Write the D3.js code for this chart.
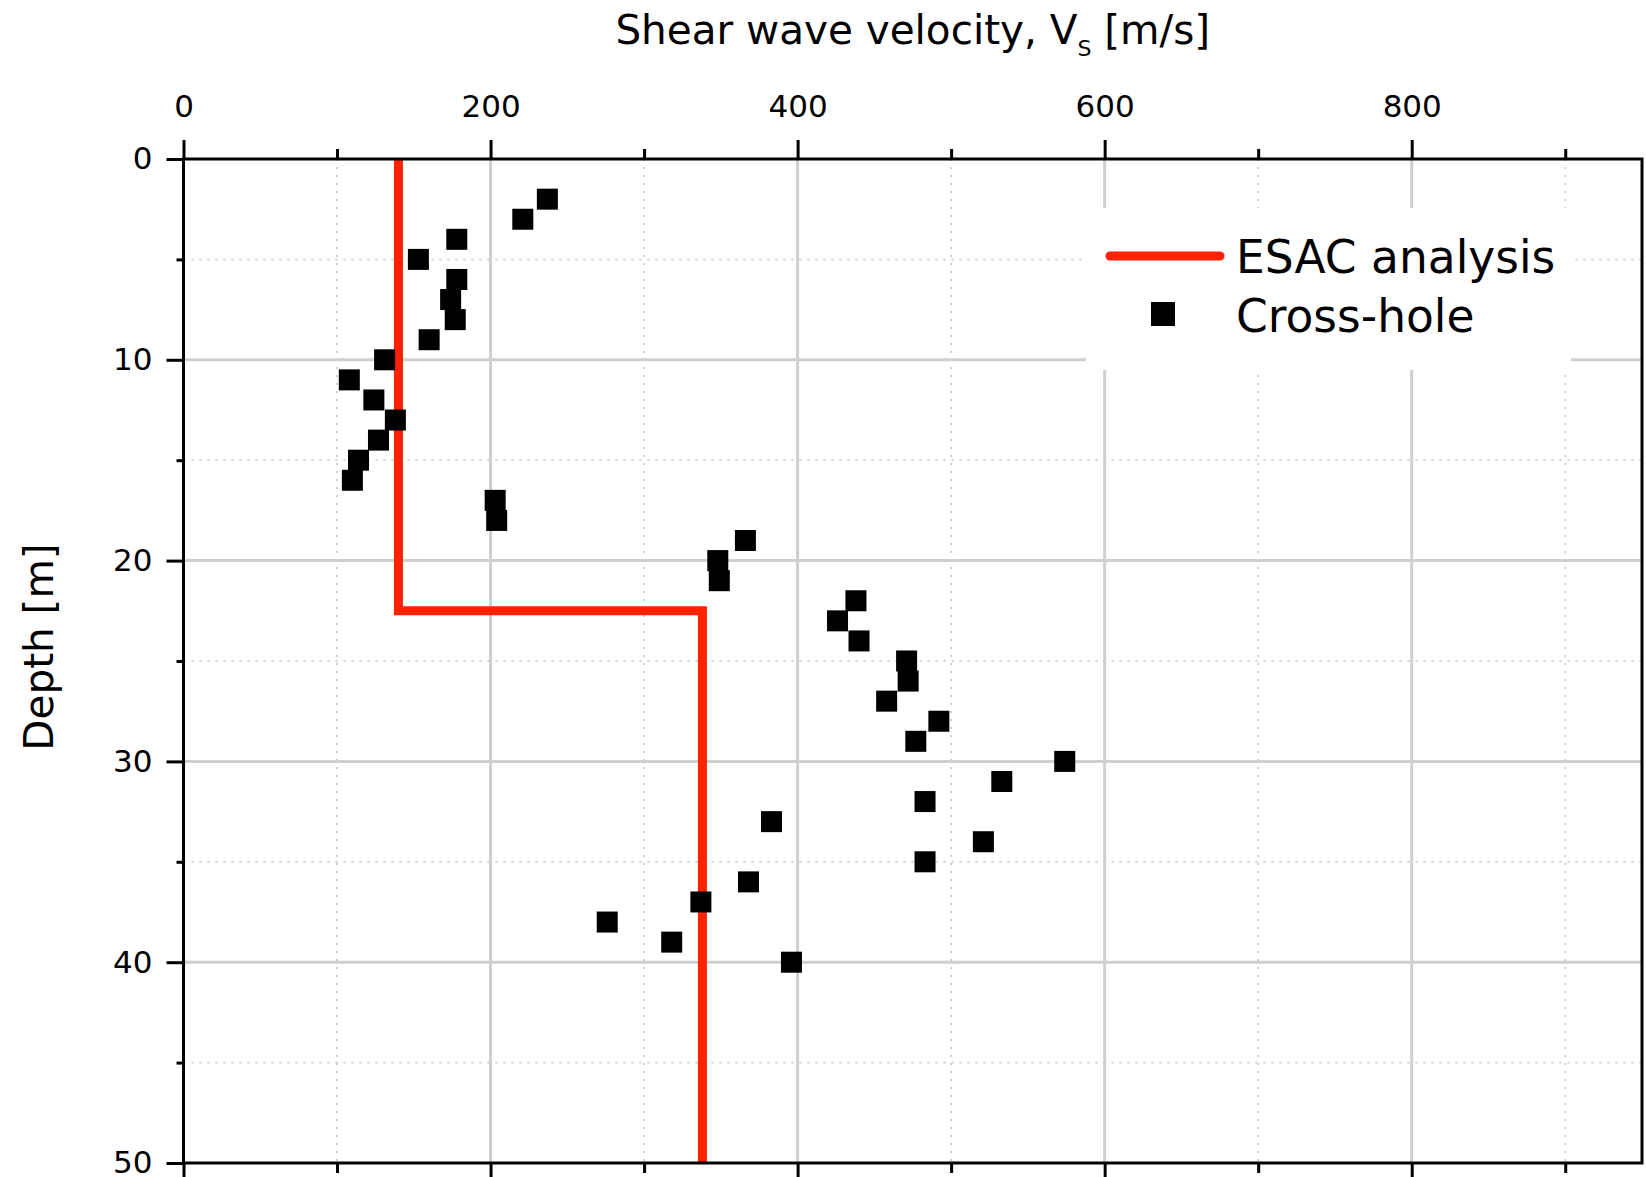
<!DOCTYPE html>
<html>
<head>
<meta charset="utf-8">
<script src="https://cdn.jsdelivr.net/npm/d3@7"></script>
<style>
  html, body { margin: 0; padding: 0; background: #fff; }
  svg { display: block; }
  text { font-family: "DejaVu Sans", Verdana, sans-serif; fill: #000; }
</style>
</head>
<body>
<svg id="chart" width="1646" height="1177"></svg>
<script>
// ---------- data ----------
const xMajorTicks = [0, 200, 400, 600, 800];
const xMinorTicks = [100, 300, 500, 700, 900];
const yMajorTicks = [0, 10, 20, 30, 40, 50];
const yMinorTicks = [5, 15, 25, 35, 45];

const esacDepth = [0, 22.5, 22.5, 50];
const esacVs    = [140, 140, 338, 338];

const crossDepth = [2, 3, 4, 5, 6, 7, 8, 9, 10, 11, 12, 13, 14, 15, 16, 17, 18, 19, 20, 21,
                    22, 23, 24, 25, 26, 27, 28, 29, 30, 31, 32, 33, 34, 35, 36, 37, 38, 39, 40];
const crossVs    = [237, 221, 178, 153, 178, 174, 177, 160, 131, 108, 124, 138, 127, 114, 110, 203, 204, 366, 348, 349,
                    438, 426, 440, 471, 472, 458, 492, 477, 574, 533, 483, 383, 521, 483, 368, 337, 276, 318, 396];

const legendLabels = ["ESAC analysis", "Cross-hole"];

// ---------- layout ----------
const L = 183.5, R = 1642, T = 159, B = 1163;
const red = "#ff2200";
const svg = d3.select("#chart");

const x = d3.scaleLinear().domain([0, 950]).range([L, R]);
const y = d3.scaleLinear().domain([0, 50]).range([T, B]);

// ---------- grid ----------
const grid = svg.append("g");
grid.selectAll(".gxmin").data(xMinorTicks).join("line")
  .attr("x1", d => x(d)).attr("x2", d => x(d)).attr("y1", T).attr("y2", B)
  .attr("stroke", "#cfcfcf").attr("stroke-width", 2).attr("stroke-dasharray", "2,6");
grid.selectAll(".gymin").data(yMinorTicks).join("line")
  .attr("y1", d => y(d)).attr("y2", d => y(d)).attr("x1", L).attr("x2", R)
  .attr("stroke", "#cfcfcf").attr("stroke-width", 2).attr("stroke-dasharray", "2,6");
grid.selectAll(".gxmaj").data(xMajorTicks.filter(d => d > 0)).join("line")
  .attr("x1", d => x(d)).attr("x2", d => x(d)).attr("y1", T).attr("y2", B)
  .attr("stroke", "#cfcfcf").attr("stroke-width", 3);
grid.selectAll(".gymaj").data(yMajorTicks.filter(d => d > 0 && d < 50)).join("line")
  .attr("y1", d => y(d)).attr("y2", d => y(d)).attr("x1", L).attr("x2", R)
  .attr("stroke", "#cfcfcf").attr("stroke-width", 3);

// ---------- legend background (covers grid) ----------
const leg = svg.append("g");
leg.append("rect").attr("x", 1086).attr("y", 208).attr("width", 485).attr("height", 162).attr("fill", "#fff");

// ---------- ESAC line ----------
const esac = esacDepth.map((d, i) => ({ d, v: esacVs[i] }));
svg.append("path")
  .datum(esac)
  .attr("d", d3.line().x(p => x(p.v)).y(p => y(p.d)))
  .attr("fill", "none").attr("stroke", red).attr("stroke-width", 9)
  .attr("stroke-linejoin", "miter");

// ---------- cross-hole squares ----------
const sq = 21;
svg.selectAll(".pt").data(crossDepth.map((d, i) => ({ d, v: crossVs[i] }))).join("rect")
  .attr("x", p => x(p.v) - sq / 2).attr("y", p => y(p.d) - sq / 2)
  .attr("width", sq).attr("height", sq).attr("fill", "#000");

// ---------- axes ----------
function styleAxis(g) {
  g.select(".domain").remove();
  g.selectAll(".tick line").attr("stroke", "#000").attr("stroke-width", 3);
  g.selectAll(".tick text").style("font-size", "31px").style("font-family", "'DejaVu Sans', Verdana, sans-serif");
}
// top
svg.append("g").attr("transform", `translate(0,${T})`)
  .call(d3.axisTop(x).tickValues(xMajorTicks).tickSize(19).tickPadding(23).tickFormat(d3.format("d")))
  .call(styleAxis);
svg.append("g").attr("transform", `translate(0,${T})`)
  .call(d3.axisTop(x).tickValues(xMinorTicks).tickSize(10).tickFormat(""))
  .call(styleAxis);
// bottom
svg.append("g").attr("transform", `translate(0,${B})`)
  .call(d3.axisBottom(x).tickValues(xMajorTicks).tickSize(19).tickFormat(""))
  .call(styleAxis);
svg.append("g").attr("transform", `translate(0,${B})`)
  .call(d3.axisBottom(x).tickValues(xMinorTicks).tickSize(10).tickFormat(""))
  .call(styleAxis);
// left
svg.append("g").attr("transform", `translate(${L},0)`)
  .call(d3.axisLeft(y).tickValues(yMajorTicks).tickSize(17).tickPadding(14).tickFormat(d3.format("d")))
  .call(styleAxis);
svg.append("g").attr("transform", `translate(${L},0)`)
  .call(d3.axisLeft(y).tickValues(yMinorTicks).tickSize(7).tickFormat(""))
  .call(styleAxis);

// frame
svg.append("rect").attr("x", L).attr("y", T).attr("width", R - L).attr("height", B - T)
  .attr("fill", "none").attr("stroke", "#000").attr("stroke-width", 3);

// ---------- titles ----------
const title = svg.append("text").attr("x", (L + R) / 2).attr("y", 44)
  .attr("text-anchor", "middle").style("font-size", "40.5px");
title.append("tspan").text("Shear wave velocity, V");
title.append("tspan").attr("dy", 12).style("font-size", "22px").text("S");
title.append("tspan").attr("dy", -12).text(" [m/s]");

svg.append("text").attr("transform", "translate(53,647) rotate(-90)")
  .attr("text-anchor", "middle").style("font-size", "40.5px").text("Depth [m]");

// ---------- legend ----------
leg.append("line").attr("x1", 1110).attr("x2", 1220).attr("y1", 256).attr("y2", 256)
  .attr("stroke", red).attr("stroke-width", 9).attr("stroke-linecap", "round");
leg.append("rect").attr("x", 1163 - 12).attr("y", 314 - 12).attr("width", 24).attr("height", 24).attr("fill", "#000");
leg.selectAll(".lt").data(legendLabels).join("text")
  .attr("x", 1236).attr("y", (d, i) => 273 + i * 59)
  .style("font-size", "45.5px").text(d => d);
</script>
</body>
</html>
